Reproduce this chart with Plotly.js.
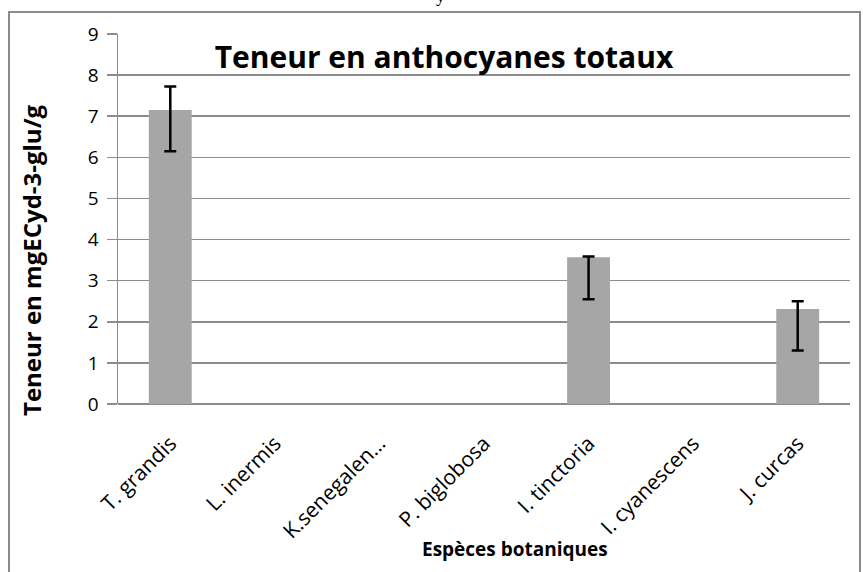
<!DOCTYPE html>
<html><head><meta charset="utf-8">
<script src="https://cdn.plot.ly/plotly-3.0.1.min.js"></script>
<style>html,body{margin:0;padding:0;background:#fff;}#chart{width:863px;height:572px;}</style>
</head><body><div id="chart"></div>
<script>
var categories = ["T. grandis", "L. inermis", "K.senegalen…", "P. biglobosa", "I. tinctoria", "I. cyanescens", "J. curcas"];
var values = [7.15, null, null, null, 3.57, null, 2.31];
var errPlus = [0.57, null, null, null, 0.02, null, 0.19];
var errMinus = [1.0, null, null, null, 1.02, null, 1.01];
var yTicks = [0, 1, 2, 3, 4, 5, 6, 7, 8, 9];

var FONT = "Open Sans, Liberation Sans, sans-serif";
var L = 118, R = 13, T = 34, B = 168, W = 863, H = 572;
var pw = W - L - R, ph = H - T - B;
function px(x){ return (x - L) / pw; }
function py(y){ return (H - B - y) / ph; }

var trace = {
  type: "bar", x: categories, y: values,
  marker: {color: "#a6a6a6"}, width: 0.41,
  error_y: {type: "data", symmetric: false, array: errPlus, arrayminus: errMinus,
            color: "#000", thickness: 2.5, width: 6},
  hoverinfo: "skip"
};

var layout = {
  width: W, height: H,
  margin: {l: L, r: R, t: T, b: B, pad: 0},
  paper_bgcolor: "#fff", plot_bgcolor: "#fff",
  showlegend: false,
  font: {family: FONT, color: "#000"},
  title: {text: "<b>Teneur en anthocyanes totaux</b>", font: {family: FONT, size: 30, color: "#000"},
          x: 444 / W, xanchor: "center", y: 1 - 57 / H, yanchor: "middle", xref: "container", yref: "container"},
  xaxis: {type: "category", showgrid: false, zeroline: false, showline: false,
          ticks: "", tickangle: -45, tickfont: {family: FONT, size: 21, color: "#000"},
          ticklabelstandoff: 22, fixedrange: true},
  yaxis: {range: [0, 9], tickvals: yTicks, showgrid: true, gridcolor: "#8c8c8c", gridwidth: 1.5,
          zeroline: true, zerolinecolor: "#8c8c8c", zerolinewidth: 1.5,
          showline: true, linecolor: "#8c8c8c", linewidth: 1.5,
          ticks: "outside", ticklen: 10, tickcolor: "#8c8c8c", tickwidth: 1.5,
          tickfont: {family: FONT, size: 19, color: "#000"}, ticklabelstandoff: 4, fixedrange: true},
  annotations: [
    {text: "<b>Teneur en mgECyd-3-glu/g</b>", textangle: -90, xref: "paper", yref: "paper",
     x: px(31), y: py(260), xanchor: "center", yanchor: "middle", showarrow: false,
     font: {family: FONT, size: 24, color: "#000"}},
    {text: "<b>Espèces botaniques</b>", xref: "paper", yref: "paper",
     x: px(515), y: py(549), xanchor: "center", yanchor: "middle", showarrow: false,
     font: {family: FONT, size: 19, color: "#000"}},
    {text: "y", xref: "paper", yref: "paper", x: px(440), y: py(-4), xanchor: "center", yanchor: "middle",
     showarrow: false, font: {family: "Liberation Serif, serif", size: 18, color: "#000"}}
  ],
  shapes: [
    {type: "rect", xref: "paper", yref: "paper", x0: px(9), x1: px(860), y0: py(600), y1: py(12),
     line: {color: "#8c8c8c", width: 2}, fillcolor: "rgba(0,0,0,0)", layer: "below"}
  ]
};

Plotly.newPlot("chart", [trace], layout, {displayModeBar: false, staticPlot: true});
</script></body></html>
